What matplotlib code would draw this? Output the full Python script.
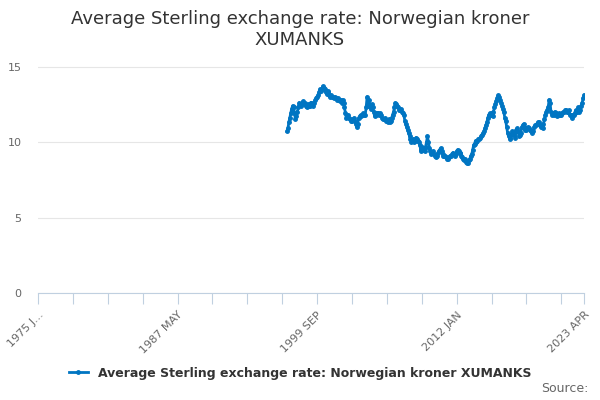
import matplotlib
matplotlib.use("Agg")
import matplotlib.pyplot as plt
import numpy as np

_BLUE = "#0075c2"
_GRID = "#e6e6e6"
_AXIS = "#c0d0e0"
_TEXT = "#333333"

# monthly values, 1997 JAN .. 2023 APR
values = [
    10.7, 10.9, 11.3, 11.6, 11.9, 12.2, 12.4, 12.3, 11.9, 11.5, 11.7, 12.0,  # 1997
    12.3, 12.6, 12.5, 12.4, 12.6, 12.7, 12.5, 12.6, 12.4, 12.3, 12.5, 12.4,  # 1998
    12.4, 12.6, 12.6, 12.5, 12.4, 12.6, 12.8, 12.9, 13.0, 13.1, 13.3, 13.5,  # 1999
    13.4, 13.5, 13.7, 13.6, 13.5, 13.3, 13.2, 13.4, 13.3, 13.1, 13.0, 13.1,  # 2000
    13.0, 13.0, 12.9, 13.0, 12.9, 12.8, 12.9, 12.8, 12.7, 12.8, 12.6, 12.8,  # 2001
    12.6, 12.3, 11.9, 11.6, 11.7, 11.8, 11.6, 11.5, 11.4, 11.4, 11.5, 11.6,  # 2002
    11.4, 11.2, 11.0, 11.2, 11.6, 11.7, 11.8, 11.7, 11.8, 11.9, 11.8, 11.8,  # 2003
    12.3, 13.0, 12.4, 12.8, 12.4, 12.2, 12.5, 12.3, 12.0, 11.7, 11.8, 11.9,  # 2004
    11.9, 11.9, 11.8, 11.9, 11.8, 11.6, 11.5, 11.5, 11.6, 11.4, 11.4, 11.3,  # 2005
    11.5, 11.3, 11.4, 11.6, 11.8, 12.0, 12.3, 12.6, 12.5, 12.4, 12.3, 12.1,  # 2006
    12.1, 12.2, 12.0, 11.9, 11.8, 11.4, 11.2, 11.0, 10.8, 10.6, 10.4, 10.2,  # 2007
    10.0, 10.1, 10.2, 10.0, 10.1, 10.3, 10.2, 10.1, 10.0, 9.8, 9.4, 9.7,     # 2008
    9.5, 9.6, 9.4, 9.7, 10.0, 10.4, 10.0, 9.6, 9.4, 9.2, 9.3, 9.4,           # 2009
    9.2, 9.1, 9.0, 9.1, 9.3, 9.4, 9.5, 9.6, 9.4, 9.2, 9.1, 9.1,              # 2010
    9.1, 9.0, 8.9, 8.9, 9.0, 9.1, 9.1, 9.2, 9.3, 9.2, 9.1, 9.2,              # 2011
    9.4, 9.5, 9.4, 9.3, 9.3, 9.1, 9.0, 8.9, 8.8, 8.9, 8.7, 8.6,              # 2012
    8.6, 8.8, 8.9, 9.1, 9.2, 9.5, 9.8, 9.9, 10.1, 10.0, 10.1, 10.2,          # 2013
    10.2, 10.3, 10.4, 10.5, 10.6, 10.7, 10.9, 11.1, 11.3, 11.6, 11.8, 11.9,  # 2014
    11.8, 11.9, 11.7, 12.0, 12.3, 12.5, 12.7, 12.9, 13.1, 13.0, 12.8, 12.6,  # 2015
    12.4, 12.2, 12.0, 11.6, 11.4, 11.0, 10.6, 10.4, 10.3, 10.2, 10.5, 10.7,  # 2016
    10.6, 10.5, 10.3, 10.8, 10.9, 10.7, 10.4, 10.5, 10.6, 11.0, 11.1, 11.2,  # 2017
    10.8, 10.9, 10.8, 10.9, 11.0, 10.9, 10.8, 10.7, 10.6, 10.7, 11.0, 11.1,  # 2018
    11.1, 11.2, 11.3, 11.3, 11.1, 11.0, 11.0, 10.9, 11.2, 11.5, 11.8, 12.0,  # 2019
    12.1, 12.3, 12.8, 12.6, 12.0, 11.8, 11.9, 11.8, 12.0, 11.9, 11.7, 11.8,  # 2020
    11.8, 11.9, 11.8, 11.8, 11.9, 12.0, 12.0, 12.1, 12.1, 12.0, 12.0, 12.1,  # 2021
    11.8, 11.8, 11.6, 11.8, 11.8, 11.9, 12.1, 12.0, 12.0, 12.3, 12.0, 12.1,  # 2022
    12.4, 12.6, 12.9, 13.1,                                                  # 2023
]

MONTHS = ["JAN", "FEB", "MAR", "APR", "MAY", "JUN",
          "JUL", "AUG", "SEP", "OCT", "NOV", "DEC"]
n_total = (2023 - 1975) * 12 + 4          # 1975 JAN .. 2023 APR
labels = [f"{1975 + i // 12} {MONTHS[i % 12]}" for i in range(n_total)]
start = (1997 - 1975) * 12
x = np.arange(start, start + len(values))

fig = plt.figure(figsize=(6, 4), dpi=100)
ax = fig.add_axes([38 / 600, 1 - 293 / 400, 546 / 600, 240 / 400])

ax.plot(x, values, color=_BLUE, linewidth=2, marker="o", markersize=2.5, zorder=3)

ax.set_xlim(0, n_total - 1)
ax.set_ylim(0, 15.9)
ax.set_yticks([0, 5, 10, 15])
ax.tick_params(axis="y", length=0, labelsize=8, labelcolor="#666666", pad=12)

minor = list(range(0, n_total, 37)) + [n_total - 1]
ax.set_xticks(minor)
major = [0, 148, 296, 444, n_total - 1]
ax.set_xticklabels([("1975 J..." if i == 0 else labels[i]) if i in major else ""
                    for i in minor],
                   rotation=45, ha="right", rotation_mode="anchor",
                   fontsize=8, color="#666666")
ax.tick_params(axis="x", length=8, color=_AXIS, pad=4)

ax.grid(axis="y", color=_GRID, linewidth=0.8)
ax.set_axisbelow(True)
for s in ("top", "right", "left"):
    ax.spines[s].set_visible(False)
ax.spines["bottom"].set_color(_AXIS)

fig.text(0.5, 0.975, "Average Sterling exchange rate: Norwegian kroner\nXUMANKS",
         ha="center", va="top", fontsize=13, color=_TEXT, linespacing=1.2)

fig.legend(["Average Sterling exchange rate: Norwegian kroner XUMANKS"],
           loc="center", bbox_to_anchor=(0.5, 1 - 373 / 400), frameon=False,
           fontsize=9, handlelength=1.5, prop={"weight": "bold", "size": 9},
           labelcolor=_TEXT)
fig.text(0.98, 1 - 389 / 400, "Source:", ha="right", va="center",
         fontsize=9, color="#666666")

fig.savefig("out.png", dpi=100, facecolor="white")
